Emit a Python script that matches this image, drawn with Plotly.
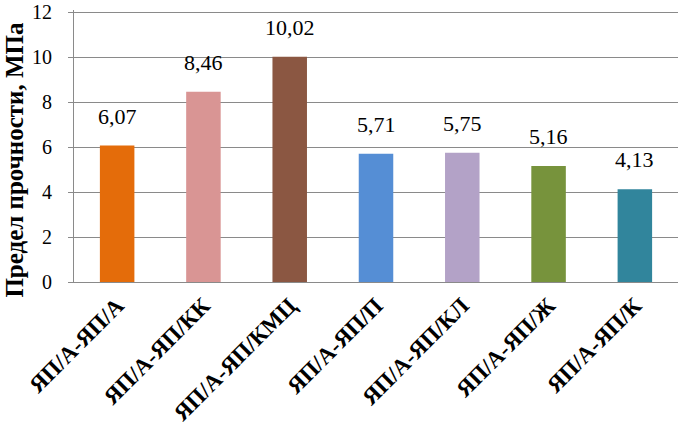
import plotly.graph_objects as go

categories = ["ЯП/А-ЯП/А", "ЯП/А-ЯП/КК", "ЯП/А-ЯП/КМЦ", "ЯП/А-ЯП/П", "ЯП/А-ЯП/КЛ", "ЯП/А-ЯП/Ж", "ЯП/А-ЯП/К"]
values = [6.07, 8.46, 10.02, 5.71, 5.75, 5.16, 4.13]
colors = ["#E46C0A", "#D99594", "#8B5742", "#558ED5", "#B3A2C7", "#77933C", "#31859C"]
y_title = "Предел прочности, МПа"
y_ticks = [0, 2, 4, 6, 8, 10, 12]

labels = [f"{v:.2f}".replace(".", ",") for v in values]
SERIF = "Liberation Serif"

fig = go.Figure()
fig.add_trace(go.Bar(x=categories, y=values, marker=dict(color=colors, line=dict(width=0)),
                     hoverinfo="skip"))

for c, v, t in zip(categories, values, labels):
    fig.add_annotation(x=c, y=v, text=t, showarrow=False, yanchor="bottom", yshift=15,
                       font=dict(family=SERIF, size=22, color="black"))

# y-axis title (placed as rotated text to match the reference position)
fig.add_annotation(xref="paper", yref="paper", x=0, y=0.45, xanchor="center", yanchor="middle",
                   xshift=-59, text=f"<b>{y_title}</b>", textangle=-90, showarrow=False,
                   font=dict(family=SERIF, size=25, color="black"))

fig.update_layout(
    width=678, height=438,
    margin=dict(l=74, r=0, t=10, b=156, autoexpand=False),
    paper_bgcolor="white", plot_bgcolor="white",
    bargap=0.6, showlegend=False,
    font=dict(family=SERIF, color="black"),
)
fig.update_yaxes(range=[0, 12.1], tickvals=y_ticks, showgrid=True, gridcolor="#8a8a8a", gridwidth=1,
                 showline=True, linecolor="#8a8a8a", linewidth=1, ticks="outside", ticklen=5,
                 tickcolor="#8a8a8a", tickfont=dict(family=SERIF, size=20, color="black"),
                 ticklabelstandoff=12, ticklabeloverflow="allow",
                 zeroline=False, automargin=False)
fig.update_xaxes(showline=True, linecolor="#8a8a8a", linewidth=1, tickangle=-45, automargin=False,
                 ticklabeloverflow="allow",
                 tickfont=dict(family=SERIF, size=23, color="black", weight="bold"))

fig.write_html("out.html", config={"displayModeBar": False},
               post_script="document.body.style.margin='0';document.body.style.overflow='hidden';")
